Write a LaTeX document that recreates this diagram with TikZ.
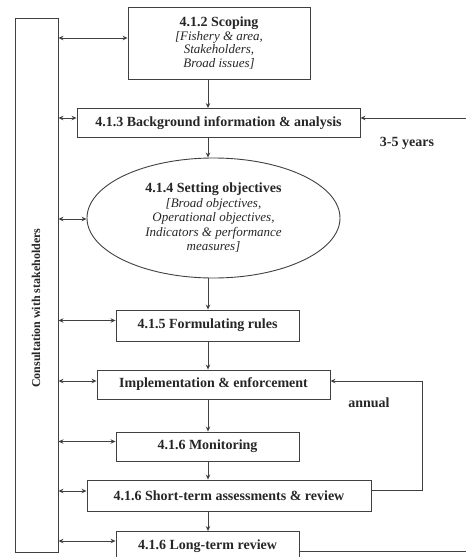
\documentclass[tikz,border=0pt]{standalone}
\usepackage{fontspec}
\setmainfont{Liberation Serif}
\usetikzlibrary{arrows.meta,shapes.geometric}
\begin{document}
\begin{tikzpicture}[x=1pt,y=-1pt,
  every node/.style={text=black!85},
  box/.style={draw=black!75, line width=0.9pt, minimum height=29pt, inner sep=0pt,
    align=center, font=\fontsize{14}{13.5}\selectfont\bfseries},
  ln/.style={draw=black!75, line width=0.9pt},
  arr/.style={ln, -{Stealth[length=5pt,width=4.5pt]}},
  darr/.style={ln, {Stealth[length=5pt,width=4.5pt]}-{Stealth[length=5pt,width=4.5pt]}},
  lbl/.style={font=\fontsize{14}{15}\selectfont\bfseries},
  sub/.style={font=\fontsize{13}{13.5}\selectfont\itshape}
]
\useasboundingbox (0,0) rectangle (466,557);
\coordinate (spine) at (208,0);
\coordinate (loopx) at (422,0);
\coordinate (redge) at (466,0);

\node[box, minimum width=43pt, minimum height=534pt] (bar) at (36.5,285) {};
\node[rotate=90, font=\fontsize{12}{14}\selectfont\bfseries] (cons) at (36,308) {Consultation with stakeholders};

\node[box, minimum width=182pt, minimum height=72pt] (scope) at (219,43)
  {4.1.2 Scoping\\\fontsize{13}{13}\selectfont\mdseries\itshape [Fishery \& area,\\\fontsize{13}{13}\selectfont\mdseries\itshape Stakeholders,\\\fontsize{13}{13}\selectfont\mdseries\itshape Broad issues]};
\node[box, minimum width=283pt] (bg) at (218.5,123) {4.1.3 Background information \& analysis};
\node[box, ellipse, minimum width=253pt, minimum height=120pt, font=\fontsize{14}{14.5}\selectfont\bfseries] (obj) at (213.5,218)
  {4.1.4 Setting objectives\\\fontsize{13}{14.5}\selectfont\mdseries\itshape [Broad objectives,\\\fontsize{13}{14.5}\selectfont\mdseries\itshape Operational objectives,\\\fontsize{13}{14.5}\selectfont\mdseries\itshape Indicators \& performance\\\fontsize{13}{14.5}\selectfont\mdseries\itshape measures]};
\node[box, minimum width=183pt, minimum height=31pt] (rules) at (207.5,325.5) {4.1.5 Formulating rules};
\node[box, minimum width=233pt] (impl) at (213.5,384.5) {Implementation \& enforcement};
\node[box, minimum width=183pt] (mon) at (207.5,446.5) {4.1.6 Monitoring};
\node[box, minimum width=284pt, minimum height=31pt] (short) at (229,495.5) {4.1.6 Short-term assessments \& review};
\node[box, minimum width=183pt] (long) at (207.5,546) {4.1.6 Long-term review};

\node[lbl] (yrs) at (407,143) {3-5 years};
\node[lbl] (ann) at (369,403) {annual};

% vertical flow
\draw[arr] (spine |- scope.south) -- (spine |- bg.north);
\draw[arr] (spine |- bg.south) -- (spine |- obj.north);
\draw[arr] (spine |- obj.south) -- (spine |- rules.north);
\draw[arr] (spine |- rules.south) -- (spine |- impl.north);
\draw[arr] (spine |- impl.south) -- (spine |- mon.north);
\draw[arr] (spine |- mon.south) -- (spine |- short.north);
\draw[arr] (spine |- short.south) -- (spine |- long.north);

% consultation links
\path ([yshift=5pt]scope.west) coordinate (scopeL);
\path ([yshift=5pt]bg.west) coordinate (bgL);
\path ([yshift=-1pt]obj.west) coordinate (objL);
\path ([yshift=5pt]rules.west) coordinate (rulesL);
\path ([yshift=3.5pt]impl.west) coordinate (implL);
\path ([yshift=5pt]mon.west) coordinate (monL);
\path ([yshift=4.5pt]short.west) coordinate (shortL);
\path ([yshift=5pt]long.west) coordinate (longL);
\foreach \c in {scopeL,bgL,objL,rulesL,implL,monL,shortL,longL}
  \draw[darr] (bar.east |- \c) -- (\c);

% feedback loops
\path ([yshift=5pt]bg.east) coordinate (bgR);
\draw[arr] (redge |- bgR) -- (bgR);
\path ([yshift=3.5pt]impl.east) coordinate (implR);
\path ([yshift=5pt]short.east) coordinate (shortR);
\draw[arr] (shortR) -| (loopx |- implR) -- (implR);
\path ([yshift=-5pt]long.east) coordinate (longR);
\draw[ln] (longR) -- (redge |- longR);
\end{tikzpicture}
\end{document}
